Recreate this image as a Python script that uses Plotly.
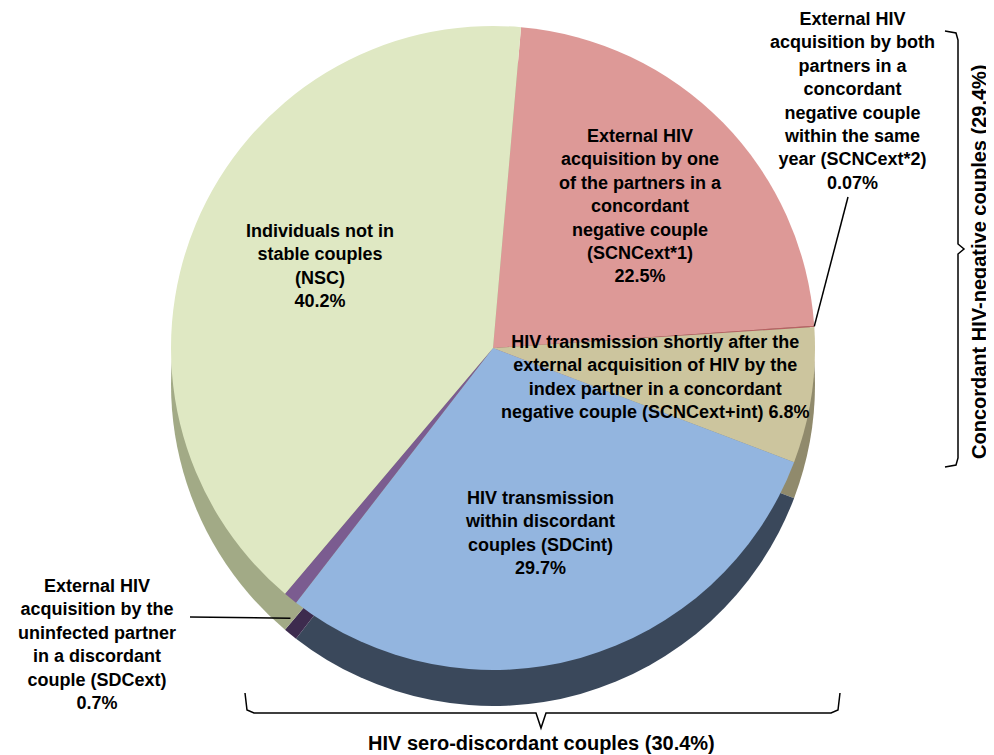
import numpy as np
import plotly.graph_objects as go

# ---- data ----
labels = ["SCNCext*1", "SCNCext*2", "SCNCext+int", "SDCint", "SDCext", "NSC"]
values = [22.5, 0.07, 6.8, 29.7, 0.7, 40.2]
top_colors = ["#dd9997", "#b86262", "#ccc59e", "#93b5df", "#7b5c90", "#dfe8c3"]
side_colors = ["#a26f6d", "#7a3c3c", "#908a6c", "#3a485b", "#3d2b4e", "#a2aa86"]
label_texts = {
    "SCNCext*1": "External HIV<br>acquisition by one<br>of the partners in a<br>concordant<br>negative couple<br>(SCNCext*1)<br>22.5%",
    "SCNCext*2": "External HIV<br>acquisition by both<br>partners in a<br>concordant<br>negative couple<br>within the same<br>year (SCNCext*2)<br>0.07%",
    "SCNCext+int": "HIV transmission shortly after the<br>external acquisition of HIV by the<br>index partner in a concordant<br>negative couple (SCNCext+int) 6.8%",
    "SDCint": "HIV transmission<br>within discordant<br>couples (SDCint)<br>29.7%",
    "SDCext": "External HIV<br>acquisition by the<br>uninfected partner<br>in a discordant<br>couple (SDCext)<br>0.7%",
    "NSC": "Individuals not in<br>stable couples<br>(NSC)<br>40.2%",
}
group_right = "Concordant HIV-negative couples (29.4%)"
group_bottom = "HIV sero-discordant couples (30.4%)"

OFF = 8                      # page body margin
W, H = 994 - OFF, 755 - OFF
CX, CY, R = 493, 348, 322    # pie centre / radius in screen pixels
DEPTH = 36
ROT = 5


def px(x):
    return (x - OFF) / W


def py(y):
    return 1 - (y - OFF) / H


def dom(cx, cy, r):
    return dict(x=[px(cx - r), px(cx + r)], y=[py(cy + r), py(cy - r)])


fig = go.Figure()
# side (depth) of the pie
fig.add_trace(go.Pie(
    labels=labels, values=values, sort=False, direction="clockwise", rotation=ROT,
    marker=dict(colors=side_colors, line=dict(width=0)),
    textinfo="none", hoverinfo="skip", showlegend=False,
    domain=dom(CX, CY + DEPTH, R),
))
# top face
fig.add_trace(go.Pie(
    labels=labels, values=values, sort=False, direction="clockwise", rotation=ROT,
    marker=dict(colors=top_colors, line=dict(width=0)),
    textinfo="none", hoverinfo="label+percent", showlegend=False,
    domain=dom(CX, CY, R),
))

font = dict(family="Arial, Liberation Sans, sans-serif", size=18, color="black")
font_big = dict(family="Arial, Liberation Sans, sans-serif", size=20, color="black")


def ann(text, x, y, f=font, **kw):
    fig.add_annotation(text="<b>" + text + "</b>", x=px(x), y=py(y), xref="paper", yref="paper",
                       xanchor="center", yanchor="middle",
                       showarrow=False, font=f, align="center", **kw)


ann(label_texts["NSC"], 320, 266)
ann(label_texts["SCNCext*1"], 640, 206)
ann(label_texts["SCNCext+int"], 655, 377)
ann(label_texts["SDCint"], 540, 533)
ann(label_texts["SCNCext*2"], 852, 101)
ann(label_texts["SDCext"], 97, 644)
ann(group_bottom, 541, 743, f=font_big)
ann(group_right, 979, 262, f=font_big, textangle=-90, borderpad=0)

# leader-line end points computed from the slice angles
cum = np.cumsum([0] + values) / sum(values) * 360 + ROT
a2 = np.radians((cum[1] + cum[2]) / 2)
end2 = (CX + R * np.sin(a2), CY - R * np.cos(a2))
a5 = np.radians((cum[4] + cum[5]) / 2)
end5 = (CX + R * np.sin(a5), CY - R * np.cos(a5) + DEPTH * 0.55)

line = dict(color="black", width=1.5)
fig.add_shape(type="line", xref="paper", yref="paper", x0=px(848), y0=py(197),
              x1=px(end2[0]), y1=py(end2[1]), line=line)
fig.add_shape(type="line", xref="paper", yref="paper", x0=px(190), y0=py(617),
              x1=px(end5[0]), y1=py(end5[1]), line=line)


def path(points):
    s = "M " + " L ".join(f"{px(x):.5f},{py(y):.5f}" for x, y in points)
    return s


# right brace
fig.add_shape(type="path", xref="paper", yref="paper", line=line,
              path=path([(945, 31), (956, 33), (958, 40), (958, 244), (964, 249),
                         (958, 254), (958, 458), (956, 465), (945, 467)]))
# bottom brace
fig.add_shape(type="path", xref="paper", yref="paper", line=line,
              path=path([(245, 693), (247, 710), (254, 713), (536, 713), (541, 728),
                         (546, 713), (831, 713), (838, 710), (840, 693)]))

fig.update_layout(width=W, height=H, margin=dict(l=0, r=0, t=0, b=0),
                  paper_bgcolor="white", plot_bgcolor="white")
fig.write_html("out.html")
